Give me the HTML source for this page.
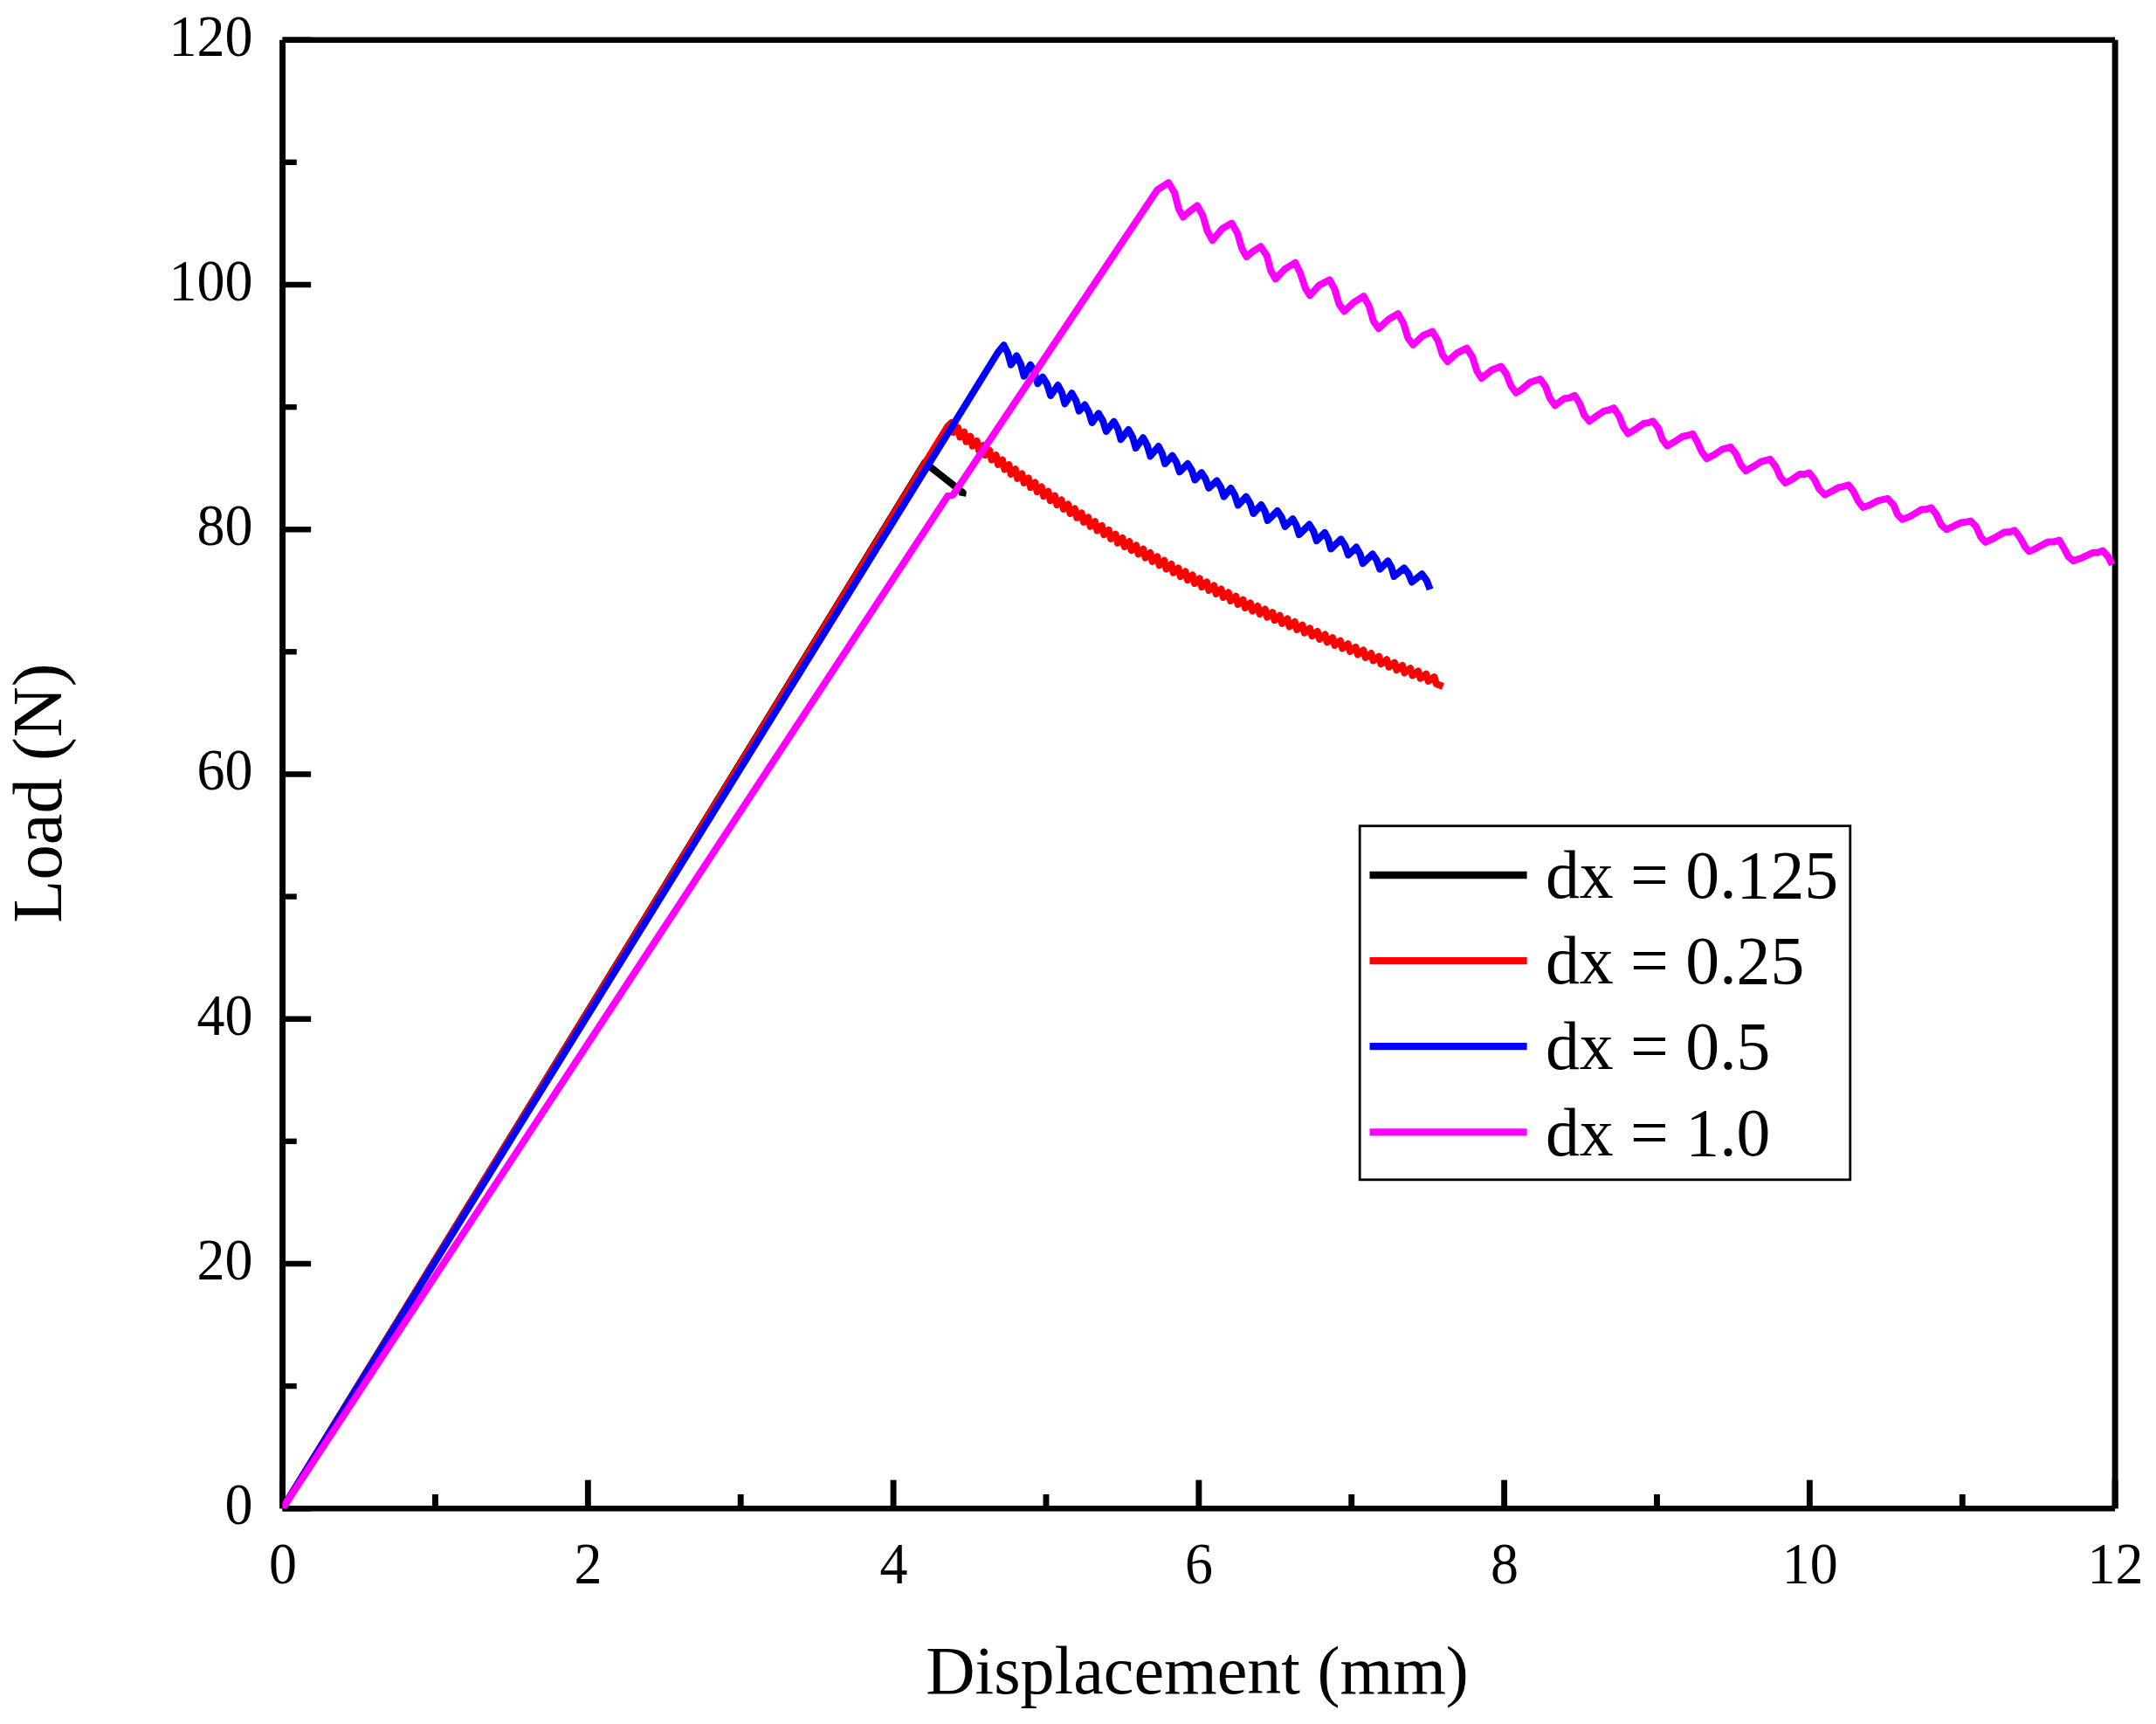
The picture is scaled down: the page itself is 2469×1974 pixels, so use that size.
<!DOCTYPE html>
<html><head><meta charset="utf-8"><title>Load-Displacement</title>
<style>html,body{margin:0;padding:0;background:#fff}svg{display:block}text{font-family:"Liberation Serif",serif;fill:#000}</style></head><body>
<svg width="2469" height="1974" viewBox="0 0 2469 1974">
<rect width="2469" height="1974" fill="#fff"/>
<g stroke="#000" fill="none">
<line stroke-width="6.9" x1="323.55" y1="45.7" x2="323.55" y2="1727.2"/>
<line stroke-width="6.9" x1="2422.15" y1="45.7" x2="2422.15" y2="1727.2"/>
<line stroke-width="6.4" x1="323.55" y1="45.7" x2="2422.15" y2="45.7"/>
<line stroke-width="6.4" x1="323.55" y1="1727.2" x2="2422.15" y2="1727.2"/>
<line stroke-width="6.9" x1="323.55" y1="1727.2" x2="323.55" y2="1694.6"/>
<line stroke-width="6.9" x1="498.43" y1="1727.2" x2="498.43" y2="1711.0"/>
<line stroke-width="6.9" x1="673.32" y1="1727.2" x2="673.32" y2="1694.6"/>
<line stroke-width="6.9" x1="848.20" y1="1727.2" x2="848.20" y2="1711.0"/>
<line stroke-width="6.9" x1="1023.08" y1="1727.2" x2="1023.08" y2="1694.6"/>
<line stroke-width="6.9" x1="1197.97" y1="1727.2" x2="1197.97" y2="1711.0"/>
<line stroke-width="6.9" x1="1372.85" y1="1727.2" x2="1372.85" y2="1694.6"/>
<line stroke-width="6.9" x1="1547.73" y1="1727.2" x2="1547.73" y2="1711.0"/>
<line stroke-width="6.9" x1="1722.62" y1="1727.2" x2="1722.62" y2="1694.6"/>
<line stroke-width="6.9" x1="1897.50" y1="1727.2" x2="1897.50" y2="1711.0"/>
<line stroke-width="6.9" x1="2072.38" y1="1727.2" x2="2072.38" y2="1694.6"/>
<line stroke-width="6.9" x1="2247.27" y1="1727.2" x2="2247.27" y2="1711.0"/>
<line stroke-width="6.9" x1="2422.15" y1="1727.2" x2="2422.15" y2="1694.6"/>
<line stroke-width="6.4" x1="323.55" y1="1727.2" x2="356.15" y2="1727.2"/>
<line stroke-width="6.4" x1="323.55" y1="1587.1" x2="339.75" y2="1587.1"/>
<line stroke-width="6.4" x1="323.55" y1="1447.0" x2="356.15" y2="1447.0"/>
<line stroke-width="6.4" x1="323.55" y1="1306.8" x2="339.75" y2="1306.8"/>
<line stroke-width="6.4" x1="323.55" y1="1166.7" x2="356.15" y2="1166.7"/>
<line stroke-width="6.4" x1="323.55" y1="1026.6" x2="339.75" y2="1026.6"/>
<line stroke-width="6.4" x1="323.55" y1="886.5" x2="356.15" y2="886.5"/>
<line stroke-width="6.4" x1="323.55" y1="746.3" x2="339.75" y2="746.3"/>
<line stroke-width="6.4" x1="323.55" y1="606.2" x2="356.15" y2="606.2"/>
<line stroke-width="6.4" x1="323.55" y1="466.1" x2="339.75" y2="466.1"/>
<line stroke-width="6.4" x1="323.55" y1="326.0" x2="356.15" y2="326.0"/>
<line stroke-width="6.4" x1="323.55" y1="185.8" x2="339.75" y2="185.8"/>
<line stroke-width="6.4" x1="323.55" y1="45.7" x2="356.15" y2="45.7"/>
</g>
<defs><clipPath id="c"><rect x="323.6" y="45.7" width="2098.6" height="1681.5"/></clipPath></defs>
<g clip-path="url(#c)">
<polyline points="323.6,1727.2 1059.0,529.6 1102.8,564.2 1102.0,568.0" fill="none" stroke="#000" stroke-width="8" stroke-linejoin="round" stroke-linecap="butt"/>
<polyline points="323.6,1727.2 1085.0,488.5 1089.7,484.0 1092.1,495.0 1096.9,489.6 1099.3,500.5 1104.1,494.7 1106.5,505.7 1111.3,499.8 1113.7,510.7 1118.6,504.9 1121.0,515.7 1125.9,510.2 1128.3,521.0 1133.2,515.7 1135.6,526.5 1140.6,521.2 1143.0,531.9 1148.0,526.7 1150.4,537.4 1155.4,532.2 1157.8,542.9 1162.8,537.3 1165.2,547.9 1170.3,542.4 1172.7,552.9 1177.8,547.4 1180.2,558.0 1185.3,552.5 1187.7,563.0 1192.8,557.6 1195.2,568.1 1200.4,562.7 1202.8,573.1 1208.0,567.7 1210.4,578.0 1215.6,572.6 1218.0,582.9 1223.2,577.6 1225.6,587.9 1230.9,582.6 1233.3,592.8 1238.6,587.6 1241.0,597.8 1246.3,592.6 1248.7,602.8 1254.1,597.3 1256.5,607.5 1261.9,602.1 1264.3,612.2 1269.7,606.9 1272.1,616.9 1277.5,611.7 1279.9,621.7 1285.4,616.0 1287.8,625.9 1293.3,620.2 1295.7,630.1 1301.2,624.5 1303.6,634.4 1309.2,628.8 1311.6,638.6 1317.2,633.1 1319.6,642.9 1325.2,637.4 1327.6,647.2 1333.2,641.8 1335.6,651.5 1341.3,646.1 1343.7,655.8 1349.4,650.5 1351.8,660.1 1357.5,654.5 1359.9,664.1 1365.6,658.5 1368.0,668.0 1373.8,662.5 1376.2,672.0 1382.0,666.5 1384.4,675.9 1390.3,670.5 1392.7,679.9 1398.5,674.6 1400.9,683.9 1406.8,678.6 1409.2,687.9 1415.2,682.7 1417.6,691.9 1423.5,686.7 1425.9,696.0 1431.9,690.4 1434.3,699.6 1440.3,694.0 1442.7,703.1 1448.8,697.6 1451.2,706.7 1457.2,701.2 1459.6,710.2 1465.7,704.8 1468.1,713.8 1474.3,708.4 1476.7,717.4 1482.8,712.1 1485.2,721.0 1491.4,715.7 1493.8,724.6 1500.1,719.4 1502.5,728.2 1508.7,723.0 1511.1,731.8 1517.4,726.6 1519.8,735.3 1526.1,730.2 1528.5,738.8 1534.9,733.7 1537.3,742.4 1543.7,737.3 1546.1,745.9 1552.5,740.9 1554.9,749.4 1561.3,744.5 1563.7,753.0 1570.2,748.1 1572.6,756.5 1579.1,751.7 1581.5,760.1 1588.1,755.3 1590.5,763.7 1597.0,758.8 1599.4,767.1 1606.0,762.0 1608.4,770.3 1615.1,765.3 1617.5,773.5 1624.1,768.5 1626.5,776.7 1633.2,771.8 1635.6,779.9 1642.4,775.1 1644.8,783.1 1652.5,786.1" fill="none" stroke="#f00" stroke-width="8" stroke-linejoin="round" stroke-linecap="butt"/>
<polyline points="323.6,1727.2 1142.8,403.5 1149.5,395.2 1154.1,404.2 1157.8,417.7 1164.3,407.5 1168.9,416.8 1172.6,430.7 1180.0,417.7 1184.7,426.3 1188.4,439.1 1194.0,431.7 1199.2,440.2 1203.2,453.0 1211.6,441.0 1216.0,449.5 1219.4,462.3 1227.4,450.2 1232.1,458.4 1235.7,470.6 1242.2,463.6 1246.9,471.8 1250.6,484.0 1258.0,473.4 1262.9,481.6 1266.7,493.9 1275.6,482.7 1280.1,490.9 1283.6,503.1 1292.3,492.0 1297.0,500.4 1300.7,513.0 1309.0,501.3 1313.7,509.7 1317.4,522.3 1326.7,511.1 1330.8,519.1 1334.1,531.0 1342.5,521.7 1347.1,529.1 1350.8,540.3 1360.1,531.0 1364.8,538.4 1368.4,549.5 1375.9,541.2 1380.5,548.2 1384.2,558.8 1393.5,550.5 1398.0,557.8 1401.6,568.7 1409.4,558.9 1414.1,566.7 1417.7,578.4 1427.0,568.7 1431.7,576.4 1435.4,588.0 1444.3,578.0 1448.5,585.2 1451.7,596.0 1462.9,584.9 1467.7,592.1 1471.6,602.9 1480.5,594.2 1484.5,601.4 1487.7,612.2 1499.4,600.6 1504.1,608.1 1507.8,619.2 1517.1,609.9 1521.0,617.4 1524.1,628.5 1535.6,617.4 1540.3,624.6 1544.0,635.5 1553.2,626.6 1557.4,634.1 1560.7,645.2 1571.8,634.4 1576.5,641.3 1580.2,651.7 1589.4,642.4 1593.4,649.5 1596.5,660.0 1608.0,650.4 1613.0,656.9 1616.9,666.5 1628.4,657.3 1633.6,664.3 1637.7,674.9" fill="none" stroke="#00f" stroke-width="8" stroke-linejoin="round" stroke-linecap="butt"/>
<polyline points="323.6,1727.2 1085.2,568.0 1091.5,566.6 1325.4,217.3 1338.2,209.2 1345.1,220.8 1349.8,239.3 1354.9,248.6 1361.4,242.8 1371.1,235.4 1377.6,247.4 1382.7,264.8 1388.5,275.3 1399.7,261.8 1410.6,255.6 1417.1,267.2 1422.2,284.6 1427.5,293.9 1434.5,288.1 1443.7,282.3 1450.7,292.7 1455.3,310.1 1460.7,319.4 1471.6,307.8 1483.2,300.8 1489.0,312.4 1494.8,329.8 1500.1,338.4 1511.0,326.3 1522.6,320.5 1528.4,331.0 1533.5,348.4 1539.3,356.5 1550.5,346.1 1561.6,339.1 1567.9,350.7 1573.0,368.1 1578.8,376.2 1589.9,365.8 1601.0,359.3 1607.3,370.4 1612.4,387.1 1618.2,394.8 1629.4,384.3 1640.3,379.7 1646.8,390.1 1651.9,406.4 1657.7,414.0 1668.8,404.1 1679.7,398.7 1686.2,408.7 1691.3,424.9 1696.6,433.1 1708.2,423.8 1719.0,419.6 1725.1,428.4 1730.2,441.6 1736.0,449.8 1742.9,445.6 1752.2,437.7 1763.8,434.0 1770.1,442.8 1774.7,455.6 1780.7,464.2 1791.6,456.3 1797.4,455.6 1803.2,452.8 1809.0,461.8 1814.2,475.3 1820.0,482.3 1829.9,475.3 1836.9,470.6 1842.7,469.5 1848.0,467.2 1854.3,476.5 1858.9,488.7 1864.3,496.6 1872.9,491.5 1882.1,485.0 1887.9,484.1 1893.0,482.3 1899.1,490.4 1903.7,503.1 1909.3,510.6 1918.1,505.5 1926.9,499.7 1933.2,498.5 1938.5,496.9 1943.6,505.9 1948.7,517.1 1954.5,525.2 1963.3,520.5 1971.9,514.7 1981.9,511.9 1988.2,520.1 1993.5,532.1 1999.3,539.1 2008.6,533.8 2016.7,528.7 2027.1,525.9 2033.6,534.5 2038.7,546.1 2044.5,553.0 2051.5,549.5 2060.8,543.0 2066.6,543.0 2071.9,541.4 2078.2,549.5 2083.3,560.0 2089.8,566.5 2096.8,563.0 2104.9,558.4 2110.7,557.2 2116.9,555.3 2122.7,563.0 2128.1,573.9 2133.4,580.9 2140.8,578.5 2150.1,573.4 2161.7,570.9 2168.7,578.5 2172.9,589.0 2178.4,594.8 2187.8,591.1 2200.8,583.3 2205.4,583.3 2211.6,581.4 2217.5,589.2 2223.1,601.3 2229.0,606.3 2237.0,602.6 2245.3,598.5 2251.8,597.6 2256.8,596.6 2263.0,603.1 2268.5,615.2 2273.7,620.8 2282.5,616.7 2295.5,609.3 2301.0,609.3 2307.0,607.4 2313.1,615.2 2319.2,626.3 2323.7,631.5 2332.6,627.3 2345.6,620.4 2352.1,620.4 2358.2,618.5 2363.8,628.2 2368.8,637.5 2374.3,642.1 2382.7,639.3 2396.6,632.8 2402.2,632.8 2408.1,630.6 2414.2,637.5 2418.9,646.8" fill="none" stroke="#f0f" stroke-width="8" stroke-linejoin="round" stroke-linecap="butt"/>
</g>
<g font-size="68" text-anchor="middle">
<text transform="translate(323.9,1812.6) scale(0.94,1)">0</text>
<text transform="translate(673.6,1812.6) scale(0.94,1)">2</text>
<text transform="translate(1023.4,1812.6) scale(0.94,1)">4</text>
<text transform="translate(1373.1,1812.6) scale(0.94,1)">6</text>
<text transform="translate(1722.9,1812.6) scale(0.94,1)">8</text>
<text transform="translate(2072.7,1812.6) scale(0.94,1)">10</text>
<text transform="translate(2422.5,1812.6) scale(0.94,1)">12</text>
</g>
<g font-size="68" text-anchor="end">
<text transform="translate(289.4,1745.1) scale(0.94,1)">0</text>
<text transform="translate(289.4,1464.9) scale(0.94,1)">20</text>
<text transform="translate(289.4,1184.6) scale(0.94,1)">40</text>
<text transform="translate(289.4,904.4) scale(0.94,1)">60</text>
<text transform="translate(289.4,624.1) scale(0.94,1)">80</text>
<text transform="translate(289.4,343.9) scale(0.94,1)">100</text>
<text transform="translate(289.4,63.6) scale(0.94,1)">120</text>
</g>
<text x="1371" y="1939" font-size="78" text-anchor="middle">Displacement (mm)</text>
<text transform="translate(69.6,908) rotate(-90)" font-size="80.5" text-anchor="middle">Load (N)</text>
<rect x="1557.2" y="945.7" width="561.6" height="405.1" fill="#fff" stroke="#000" stroke-width="2.8"/>
<line x1="1568.5" y1="1002.0" x2="1748.6" y2="1002.0" stroke="#000" stroke-width="8.3"/>
<text x="1770" y="1028.2" font-size="77.7">dx = 0.125</text>
<line x1="1568.5" y1="1100.1" x2="1748.6" y2="1100.1" stroke="#f00" stroke-width="8.3"/>
<text x="1770" y="1126.3" font-size="77.7">dx = 0.25</text>
<line x1="1568.5" y1="1198.2" x2="1748.6" y2="1198.2" stroke="#00f" stroke-width="8.3"/>
<text x="1770" y="1224.4" font-size="77.7">dx = 0.5</text>
<line x1="1568.5" y1="1296.3" x2="1748.6" y2="1296.3" stroke="#f0f" stroke-width="8.3"/>
<text x="1770" y="1322.5" font-size="77.7">dx = 1.0</text>
</svg></body></html>
